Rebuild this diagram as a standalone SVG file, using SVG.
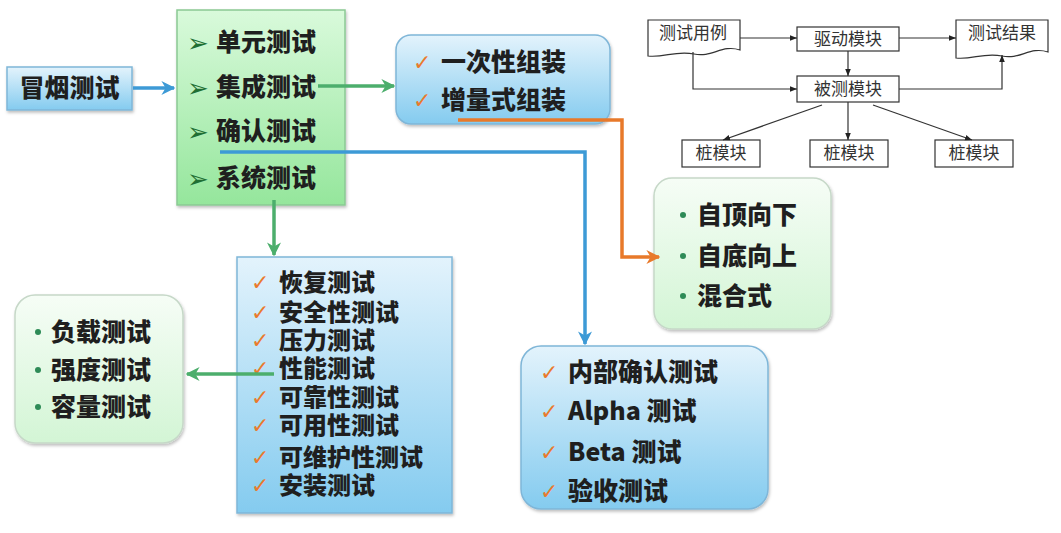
<svg xmlns="http://www.w3.org/2000/svg" width="1061" height="533" viewBox="0 0 1061 533">
<defs>
<linearGradient id="gBlue" x1="0" y1="0" x2="0" y2="1">
<stop offset="0" stop-color="#e3f3fc"/><stop offset="1" stop-color="#84cbef"/>
</linearGradient>
<linearGradient id="gGreen" x1="0" y1="0" x2="0" y2="1">
<stop offset="0" stop-color="#d9fadb"/><stop offset="1" stop-color="#95e69c"/>
</linearGradient>
<linearGradient id="gPale" x1="0" y1="0" x2="0" y2="1">
<stop offset="0" stop-color="#f6fdf6"/><stop offset="1" stop-color="#d3f5d5"/>
</linearGradient>
<filter id="sh" x="-10%" y="-10%" width="130%" height="130%">
<feDropShadow dx="1" dy="2" stdDeviation="1.5" flood-color="#000" flood-opacity="0.25"/>
</filter>
<marker id="aBlue" viewBox="0 0 10 10" refX="9" refY="5" markerWidth="4" markerHeight="4" orient="auto"><path d="M0,0 L10,5 L0,10 L3,5 Z" fill="#3d9ad6"/></marker>
<marker id="aGreen" viewBox="0 0 10 10" refX="9" refY="5" markerWidth="4" markerHeight="4" orient="auto"><path d="M0,0 L10,5 L0,10 L3,5 Z" fill="#4cae6c"/></marker>
<marker id="aOrange" viewBox="0 0 10 10" refX="9" refY="5" markerWidth="4" markerHeight="4" orient="auto"><path d="M0,0 L10,5 L0,10 L3,5 Z" fill="#e8792a"/></marker>
<marker id="aBlack" viewBox="0 0 10 10" refX="10" refY="5" markerWidth="7" markerHeight="7" orient="auto" markerUnits="userSpaceOnUse"><path d="M0,1 L10,5 L0,9 Z" fill="#222"/></marker>
</defs>
<style>
.t{font-family:"Noto Sans CJK SC","Liberation Sans",sans-serif;font-weight:900;font-size:25px;fill:#1f1f1f;}
.t2{font-family:"Noto Sans CJK SC","Liberation Sans",sans-serif;font-weight:900;font-size:24px;fill:#1f1f1f;}
.s{font-family:"Noto Sans CJK SC","Liberation Sans",sans-serif;font-size:17px;fill:#333;}
.ck{font-family:"DejaVu Sans",sans-serif;font-size:22px;font-weight:bold;fill:#ea7a2c;}
.ar{font-family:"DejaVu Sans",sans-serif;font-size:26px;fill:#1f6f33;}
.bu{fill:#2e8b57;}
.blue{fill:url(#gBlue);stroke:#7fb6d8;stroke-width:1.5;}
.green{fill:url(#gGreen);stroke:#8bc994;stroke-width:1.5;}
.pale{fill:url(#gPale);stroke:#c6d8c8;stroke-width:1.5;}
.wb{fill:#fff;stroke:#333;stroke-width:1.2;}
.c{fill:none;stroke-width:3.5;}
.k{fill:none;stroke:#333;stroke-width:1.2;}
</style>

<g id="smoke">
<rect class="blue" x="7" y="67" width="125" height="43" filter="url(#sh)"/>
<text class="t" x="69.5" y="97" text-anchor="middle">冒烟测试</text>
</g>

<g id="levels">
<rect class="green" x="177" y="10" width="168" height="195" filter="url(#sh)"/>
<text class="ar" x="187" y="52">➢</text><text class="t" x="216" y="51">单元测试</text>
<text class="ar" x="187" y="97">➢</text><text class="t" x="216" y="96">集成测试</text>
<text class="ar" x="187" y="141">➢</text><text class="t" x="216" y="140">确认测试</text>
<text class="ar" x="187" y="188">➢</text><text class="t" x="216" y="187">系统测试</text>
</g>

<g id="integration">
<rect class="blue" x="396" y="35" width="214" height="89" rx="15" filter="url(#sh)"/>
<text class="ck" x="413" y="70">✓</text><text class="t" x="441" y="71">一次性组装</text>
<text class="ck" x="413" y="108">✓</text><text class="t" x="441" y="109">增量式组装</text>
</g>

<g id="strategy">
<rect class="pale" x="654" y="178" width="177" height="151" rx="18" filter="url(#sh)"/>
<circle class="bu" cx="683" cy="215" r="3"/><text class="t" x="697" y="224">自顶向下</text>
<circle class="bu" cx="683" cy="256" r="3"/><text class="t" x="697" y="265">自底向上</text>
<circle class="bu" cx="683" cy="296" r="3"/><text class="t" x="697" y="305">混合式</text>
</g>

<g id="acceptance">
<rect class="blue" x="521" y="346" width="247" height="163" rx="20" filter="url(#sh)"/>
<text class="ck" x="540" y="380">✓</text><text class="t" x="568" y="381">内部确认测试</text>
<text class="ck" x="540" y="419">✓</text><text class="t" x="568" y="420">Alpha 测试</text>
<text class="ck" x="540" y="460">✓</text><text class="t" x="568" y="461">Beta 测试</text>
<text class="ck" x="540" y="499">✓</text><text class="t" x="568" y="500">验收测试</text>
</g>

<g id="system">
<rect class="blue" x="237" y="257" width="215" height="256" filter="url(#sh)"/>
<text class="ck" x="251" y="290">✓</text><text class="t2" x="279" y="291">恢复测试</text>
<text class="ck" x="251" y="320">✓</text><text class="t2" x="279" y="321">安全性测试</text>
<text class="ck" x="251" y="348">✓</text><text class="t2" x="279" y="349">压力测试</text>
<text class="ck" x="251" y="376">✓</text><text class="t2" x="279" y="377">性能测试</text>
<text class="ck" x="251" y="405">✓</text><text class="t2" x="279" y="406">可靠性测试</text>
<text class="ck" x="251" y="433">✓</text><text class="t2" x="279" y="434">可用性测试</text>
<text class="ck" x="251" y="465">✓</text><text class="t2" x="279" y="466">可维护性测试</text>
<text class="ck" x="251" y="493">✓</text><text class="t2" x="279" y="494">安装测试</text>
</g>

<g id="performance">
<rect class="pale" x="15" y="295" width="168" height="148" rx="20" filter="url(#sh)"/>
<circle class="bu" cx="38" cy="332" r="3"/><text class="t" x="51" y="341">负载测试</text>
<circle class="bu" cx="38" cy="370" r="3"/><text class="t" x="51" y="379">强度测试</text>
<circle class="bu" cx="38" cy="407" r="3"/><text class="t" x="51" y="416">容量测试</text>
</g>

<g id="testcase">
<path class="wb" d="M648,20 H740 V50 C722,44 712,58 694,54 C676,50 664,58 648,56 Z"/>
<text class="s" x="693" y="39" text-anchor="middle">测试用例</text>
</g>
<g id="driver">
<rect class="wb" x="797" y="27" width="102" height="24"/>
<text class="s" x="848" y="45" text-anchor="middle">驱动模块</text>
</g>
<g id="result">
<path class="wb" d="M956,20 H1048 V52 C1030,46 1020,60 1002,56 C984,52 972,60 956,58 Z"/>
<text class="s" x="1002" y="39" text-anchor="middle">测试结果</text>
</g>
<g id="under-test">
<rect class="wb" x="797" y="76" width="102" height="26"/>
<text class="s" x="848" y="95" text-anchor="middle">被测模块</text>
</g>
<g id="stub1">
<rect class="wb" x="682" y="140" width="78" height="27"/>
<text class="s" x="721" y="159" text-anchor="middle">桩模块</text>
</g>
<g id="stub2">
<rect class="wb" x="810" y="140" width="78" height="27"/>
<text class="s" x="849" y="159" text-anchor="middle">桩模块</text>
</g>
<g id="stub3">
<rect class="wb" x="935" y="140" width="78" height="27"/>
<text class="s" x="974" y="159" text-anchor="middle">桩模块</text>
</g>

<g id="connectors">
<path class="c" d="M133,88 H174" stroke="#3d9ad6" marker-end="url(#aBlue)"/>
<path class="c" d="M318,86 H394" stroke="#4cae6c" marker-end="url(#aGreen)"/>
<path class="c" d="M220,152 H585 V344" stroke="#3d9ad6" marker-end="url(#aBlue)"/>
<path class="c" d="M458,120 H622 V257 H659" stroke="#e8792a" marker-end="url(#aOrange)"/>
<path class="c" d="M274,200 V255" stroke="#4cae6c" marker-end="url(#aGreen)"/>
<path class="c" d="M274,374 H187" stroke="#4cae6c" marker-end="url(#aGreen)"/>
<path class="k" d="M740,38 H797" marker-end="url(#aBlack)"/>
<path class="k" d="M899,38 H956" marker-end="url(#aBlack)"/>
<path class="k" d="M848,51 V76" marker-end="url(#aBlack)"/>
<path class="k" d="M693,52 V89 H797" marker-end="url(#aBlack)"/>
<path class="k" d="M899,89 H1002 V55" marker-end="url(#aBlack)"/>
<path class="k" d="M822,105 L723,140" marker-end="url(#aBlack)"/>
<path class="k" d="M848,102 V140" marker-end="url(#aBlack)"/>
<path class="k" d="M873,105 L972,140" marker-end="url(#aBlack)"/>
</g>
</svg>
